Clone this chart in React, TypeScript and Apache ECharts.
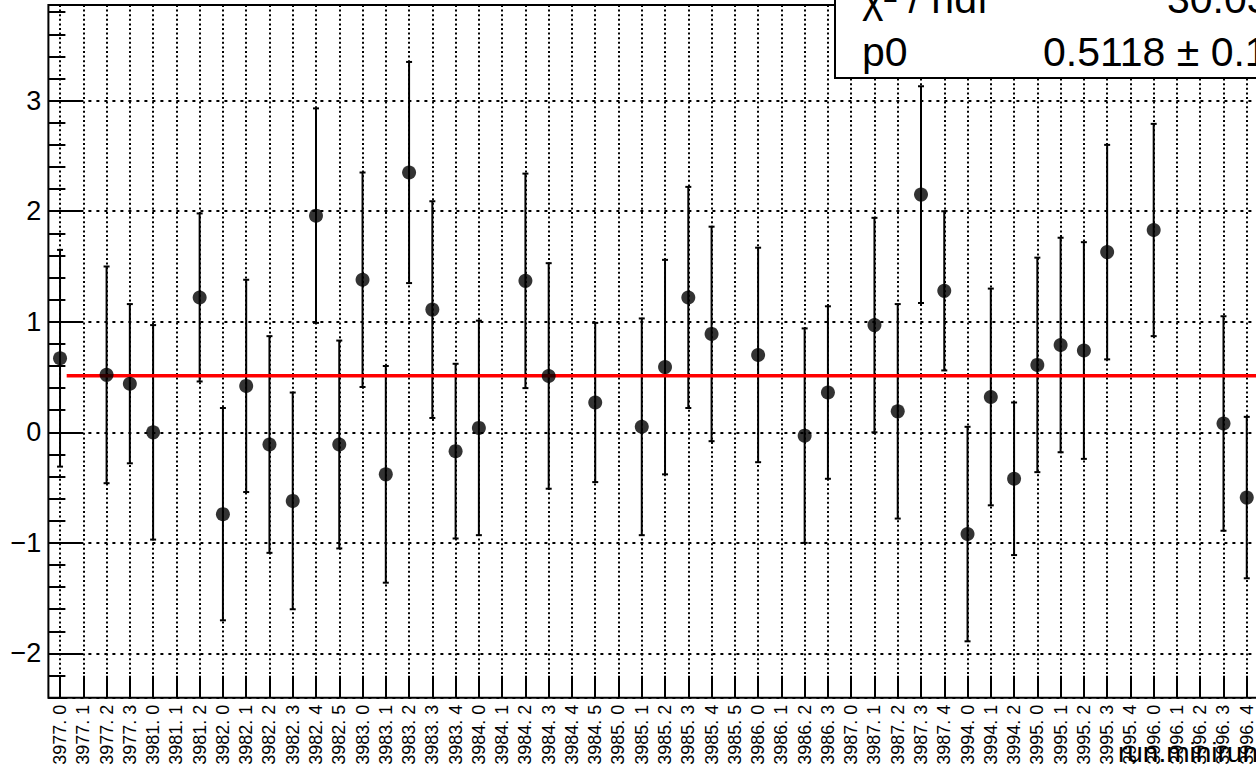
import React, { useEffect, useRef } from 'react';
import * as echarts from 'echarts';

const categories = [
  '3977. 0', '3977. 1', '3977. 2', '3977. 3', '3981. 0', '3981. 1', '3981. 2', '3982. 0', '3982. 1', '3982. 2',
  '3982. 3', '3982. 4', '3982. 5', '3983. 0', '3983. 1', '3983. 2', '3983. 3', '3983. 4', '3984. 0', '3984. 1',
  '3984. 2', '3984. 3', '3984. 4', '3984. 5', '3985. 0', '3985. 1', '3985. 2', '3985. 3', '3985. 4', '3985. 5',
  '3986. 0', '3986. 1', '3986. 2', '3986. 3', '3987. 0', '3987. 1', '3987. 2', '3987. 3', '3987. 4', '3994. 0',
  '3994. 1', '3994. 2', '3995. 0', '3995. 1', '3995. 2', '3995. 3', '3995. 4', '3996. 0', '3996. 1', '3996. 2',
  '3996. 3', '3996. 4',
];

const values: (number | null)[] = [
  0.67, null, 0.52, 0.44, 0.0, null, 1.22, -0.74, 0.42, -0.11,
  -0.62, 1.96, -0.11, 1.38, -0.38, 2.35, 1.11, -0.17, 0.04, null,
  1.37, 0.51, null, 0.27, null, 0.05, 0.59, 1.22, 0.89, null,
  0.7, null, -0.03, 0.36, null, 0.97, 0.19, 2.15, 1.28, -0.92,
  0.32, -0.42, 0.61, 0.79, 0.74, 1.63, null, 1.83, null, null,
  0.08, -0.59,
];

const errors: (number | null)[] = [
  0.98, null, 0.98, 0.72, 0.97, null, 0.76, 0.96, 0.96, 0.98,
  0.98, 0.97, 0.94, 0.97, 0.98, 1.0, 0.98, 0.79, 0.97, null,
  0.97, 1.02, null, 0.72, null, 0.98, 0.97, 1.0, 0.97, null,
  0.97, null, 0.97, 0.78, null, 0.97, 0.97, 0.98, 0.72, 0.97,
  0.98, 0.69, 0.97, 0.97, 0.98, 0.97, null, 0.96, null, null,
  0.97, 0.73,
];

const fitValue = 0.5118;
const fitRange = [0.786, 52];
const statsNames = ['χ² / ndf', 'p0'];
const statsValues = ['30.03 / 40', '0.5118 ± 0.1550'];
const xTitle = 'run.minirun';

const FONT = 'Liberation Sans';

function minusSign(v: number): string {
  if (!Number.isInteger(v)) return '';
  return v < 0 ? '\u2212' + String(-v) : String(v);
}

export default function App() {
  const ref = useRef<HTMLDivElement>(null);

  useEffect(() => {
    if (!ref.current) return;
    const chart = echarts.init(ref.current, undefined, { renderer: 'svg' });

    const points: number[][] = [];
    const bars: number[][] = [];
    values.forEach((v, i) => {
      if (v !== null && errors[i] !== null) {
        points.push([i, v]);
        bars.push([i, v, errors[i] as number]);
      }
    });

    const yMin = -2.4;
    const yMax = 3.865;
    const gridLeft = 48.4;
    const gridTop = 5;
    const gridW = 1210;
    const gridH = 692.7;
    const bin = gridW / categories.length;

    const option: any = {
      animation: false,
      backgroundColor: '#fff',
      grid: [
        {
          left: gridLeft, top: gridTop, width: gridW, height: gridH,
          show: true, borderColor: '#000', borderWidth: 2, backgroundColor: 'transparent',
          containLabel: false, outerBoundsMode: 'none',
        },
        {
          left: gridLeft + bin / 2, top: gridTop, width: gridW - bin, height: gridH,
          show: false, containLabel: false, outerBoundsMode: 'none',
        },
      ],
      xAxis: [
        {
          type: 'category', gridIndex: 0, data: categories, boundaryGap: true, position: 'bottom',
          axisLine: { show: false, onZero: false },
          axisTick: { show: true, alignWithLabel: true, inside: true, length: 22, lineStyle: { color: '#000', width: 2 } },
          axisLabel: { show: true, interval: 0, rotate: 90, fontSize: 18, fontFamily: FONT, color: '#000', margin: 7 },
          splitLine: { show: false },
        },
        {
          type: 'value', gridIndex: 0, min: 0, max: categories.length, show: false,
          axisLine: { onZero: false },
        },
        {
          type: 'value', gridIndex: 1, min: 0, max: categories.length - 1, interval: 1,
          axisLine: { show: false, onZero: false }, axisTick: { show: false }, axisLabel: { show: false },
          splitLine: { show: true, lineStyle: { color: '#000', width: 2, type: [2, 2.6] } },
        },
      ],
      yAxis: [
        {
          type: 'value', gridIndex: 0, min: yMin, max: yMax, splitNumber: 6, position: 'left',
          axisLine: { show: false, onZero: false },
          axisTick: { show: true, inside: true, length: 34, lineStyle: { color: '#000', width: 2 } },
          axisLabel: {
            show: true, fontSize: 27, fontFamily: FONT, color: '#000', margin: 7,
            showMinLabel: false, showMaxLabel: false,
            formatter: (v: number) => minusSign(v),
          },
          splitLine: { show: true, lineStyle: { color: '#000', width: 2, type: [3, 5] } },
        },
        {
          type: 'value', gridIndex: 0, min: yMin, max: yMax, interval: 0.2, position: 'left', offset: 0,
          axisLine: { show: false, onZero: false },
          axisTick: { show: true, inside: true, length: 17, lineStyle: { color: '#000', width: 2 } },
          axisLabel: { show: false },
          splitLine: { show: false },
        },
        {
          type: 'value', gridIndex: 1, min: 0, max: 1, show: false,
        },
      ],
      series: [
        {
          type: 'custom', xAxisIndex: 0, yAxisIndex: 0, data: bars, z: 3,
          renderItem: (params: any, api: any) => {
            const i = api.value(0);
            const v = api.value(1);
            const e = api.value(2);
            const top = api.coord([i, v + e]);
            const bot = api.coord([i, v - e]);
            const st = { stroke: '#000', lineWidth: 2 };
            return {
              type: 'group',
              children: [
                { type: 'line', shape: { x1: top[0], y1: top[1], x2: bot[0], y2: bot[1] }, style: st },
                { type: 'line', shape: { x1: top[0] - 3, y1: top[1], x2: top[0] + 3, y2: top[1] }, style: st },
                { type: 'line', shape: { x1: bot[0] - 3, y1: bot[1], x2: bot[0] + 3, y2: bot[1] }, style: st },
              ],
            };
          },
        },
        {
          type: 'line', xAxisIndex: 1, yAxisIndex: 0, z: 4,
          data: [[fitRange[0], fitValue], [fitRange[1], fitValue]],
          symbol: 'none', lineStyle: { color: '#ff0000', width: 3.5 }, clip: false,
        },
        {
          type: 'scatter', xAxisIndex: 0, yAxisIndex: 0, data: points, z: 5,
          symbol: 'circle', symbolSize: 14, itemStyle: { color: '#000' },
        },
      ],
      graphic: [
        {
          type: 'rect', z: 100, shape: { x: 835, y: -10, width: 500, height: 88 },
          style: { fill: '#fff', stroke: '#000', lineWidth: 2 },
        },
        {
          type: 'text', z: 101, x: 862, y: -1,
          style: { text: statsNames[0], font: `41px "${FONT}"`, fill: '#000', align: 'left', verticalAlign: 'middle' },
        },
        {
          type: 'text', z: 101, x: 1167, y: -1,
          style: { text: statsValues[0], font: `41px "${FONT}"`, fill: '#000', align: 'left', verticalAlign: 'middle' },
        },
        {
          type: 'text', z: 101, x: 862, y: 52,
          style: { text: statsNames[1], font: `41px "${FONT}"`, fill: '#000', align: 'left', verticalAlign: 'middle' },
        },
        {
          type: 'text', z: 101, x: 1043, y: 52,
          style: { text: statsValues[1], font: `41px "${FONT}"`, fill: '#000', align: 'left', verticalAlign: 'middle' },
        },
        {
          type: 'text', z: 101, x: 1258, y: 752,
          style: { text: xTitle, font: `28px "${FONT}"`, fill: '#000', align: 'right', verticalAlign: 'middle' },
        },
      ],
    };

    chart.setOption(option);
    return () => chart.dispose();
  }, []);

  return (
    <div
      ref={ref}
      style={{ position: 'fixed', left: 0, top: 0, width: 1256, height: 773, background: '#fff' }}
    />
  );
}
